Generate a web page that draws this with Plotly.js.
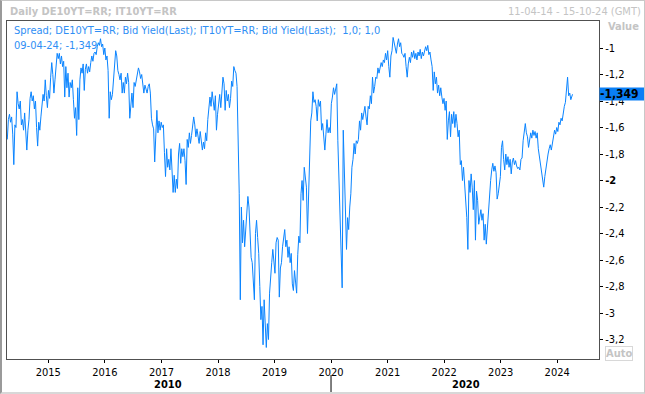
<!DOCTYPE html>
<html>
<head>
<meta charset="utf-8">
<script src="https://cdn.plot.ly/plotly-3.0.1.min.js"></script>
<style>
  html, body { margin: 0; padding: 0; background: #fff; }
  #wrap { position: relative; width: 645px; height: 394px; }
  #chart { width: 645px; height: 394px; }
  #frame { position: absolute; left: 0; top: 0; width: 645px; height: 394px; box-sizing: border-box;
           border: 1px solid #c8c8c8; border-left: 2px solid #9a9a9a; border-bottom: 2px solid #d8d8d8; pointer-events: none; }
</style>
</head>
<body>
<div id="wrap"><div id="chart"></div><div id="frame"></div></div>
<script>
// ---- data (weekly readings of the DE10Y - IT10Y spread, %) ----
const seriesStart = '2014-04-11';   // first reading, one reading per week after that
const spread2014to2016 = [
-1.69,-1.54,-1.50,-1.56,-1.52,-1.65,-1.88,-1.58,-1.60,-1.33,
-1.42,-1.46,-1.40,-1.58,-1.54,-1.62,-1.49,-1.60,-1.77,-1.62,
-1.54,-1.38,-1.33,-1.40,-1.36,-1.46,-1.40,-1.60,-1.74,-1.56,
-1.62,-1.52,-1.42,-1.35,-1.40,-1.24,-1.36,-1.45,-1.32,-1.38,
-1.22,-1.11,-1.20,-1.34,-1.24,-1.12,-1.04,-1.08,-1.04,-1.12,
-1.06,-1.14,-1.10,-1.37,-1.14,-1.30,-1.19,-1.37,-1.26,-1.30,
-1.24,-1.39,-1.53,-1.45,-1.66,-1.30,-1.54,-1.24,-1.15,-1.19,
-1.12,-1.32,-1.16,-1.12,-1.19,-1.14,-1.18,-1.11,-1.06,-1.10,
-1.04,-1.03,-1.05,-0.99,-0.96,-0.98,-0.93,-0.99,-0.97,-1.05,
-1.00,-1.09,-1.06,-1.17,-1.53,-1.33,-1.39,-1.35,-1.25,-1.10];
const spread2016to2018 = [
-1.02,-1.06,-1.17,-1.20,-1.24,-1.19,-1.34,-1.26,-1.34,-1.22,
-1.27,-1.19,-1.26,-1.53,-1.40,-1.34,-1.45,-1.26,-1.29,-1.24,
-1.18,-1.15,-1.18,-1.23,-1.20,-1.26,-1.34,-1.28,-1.31,-1.34,
-1.29,-1.27,-1.34,-1.53,-1.58,-1.61,-1.86,-1.67,-1.47,-1.64,
-1.55,-1.62,-1.56,-1.60,-1.58,-1.79,-1.97,-1.76,-1.90,-1.84,
-1.92,-1.76,-1.97,-2.09,-1.96,-2.09,-1.99,-2.06,-1.80,-1.72,
-1.87,-1.76,-1.82,-1.76,-1.85,-2.03,-1.69,-1.75,-1.64,-1.72,
-1.66,-1.60,-1.52,-1.58,-1.67,-1.61,-1.66,-1.72,-1.63,-1.70,
-1.77,-1.71,-1.76,-1.64,-1.70,-1.54,-1.45,-1.37,-1.44,-1.33,
-1.40,-1.47,-1.36,-1.62,-1.50,-1.42,-1.35,-1.45,-1.29,-1.22];
const spread2018to2020 = [
-1.27,-1.47,-1.32,-1.40,-1.35,-1.45,-1.38,-1.25,-1.29,-1.14,
-1.17,-1.19,-1.29,-1.64,-2.10,-2.90,-2.20,-2.47,-2.30,-2.50,
-2.35,-2.20,-2.12,-2.20,-2.45,-2.58,-2.62,-2.80,-2.90,-2.40,
-2.30,-2.43,-2.55,-2.80,-3.05,-2.95,-3.24,-2.90,-3.05,-3.26,
-3.08,-3.20,-2.85,-2.70,-2.62,-2.52,-2.65,-2.70,-2.47,-2.43,
-2.45,-2.88,-2.66,-2.62,-2.50,-2.42,-2.37,-2.50,-2.45,-2.58,
-2.50,-2.62,-2.55,-2.78,-2.83,-2.68,-2.80,-2.85,-2.56,-2.42,
-2.47,-2.10,-2.00,-2.15,-1.90,-1.97,-2.05,-2.40,-2.10,-1.78,
-1.55,-1.49,-1.33,-1.41,-1.39,-1.44,-1.55,-1.39,-1.44,-1.40,
-1.62,-1.57,-1.67,-1.77,-1.65,-1.54,-1.64,-1.60,-1.64,-1.42];
const spread2020to2022 = [
-1.37,-1.30,-1.35,-1.29,-1.27,-1.70,-1.95,-2.25,-2.60,-2.81,
-1.62,-2.00,-2.30,-2.52,-2.28,-2.37,-2.20,-2.10,-1.90,-1.84,
-1.72,-1.80,-1.70,-1.72,-1.69,-1.55,-1.62,-1.49,-1.54,-1.49,
-1.44,-1.52,-1.58,-1.44,-1.46,-1.36,-1.42,-1.22,-1.34,-1.29,
-1.22,-1.23,-1.15,-1.19,-1.13,-1.11,-1.14,-1.09,-1.11,-1.04,
-1.09,-1.02,-1.14,-1.22,-1.06,-1.02,-0.92,-0.96,-1.00,-1.04,
-0.97,-0.93,-0.99,-0.96,-1.04,-1.05,-1.07,-1.04,-1.14,-1.22,
-1.12,-1.07,-1.11,-1.03,-1.07,-1.02,-1.08,-1.04,-1.09,-1.03,
-1.06,-1.01,-1.08,-1.03,-1.06,-1.02,-0.99,-1.02,-0.98,-1.05,
-1.03,-1.09,-1.14,-1.32,-1.18,-1.27,-1.22,-1.34,-1.28,-1.36];
const spread2022to2024 = [
-1.30,-1.37,-1.42,-1.38,-1.47,-1.40,-1.69,-1.55,-1.48,-1.67,
-1.50,-1.57,-1.48,-1.60,-1.50,-1.57,-1.67,-1.62,-1.88,-1.85,
-2.00,-1.90,-2.02,-2.10,-2.28,-2.52,-2.00,-2.09,-1.95,-2.05,
-2.22,-2.00,-2.45,-2.08,-2.15,-2.33,-2.28,-2.22,-2.30,-2.25,
-2.45,-2.33,-2.48,-2.35,-2.20,-2.12,-2.00,-1.92,-1.87,-1.93,
-1.89,-1.94,-2.14,-2.10,-2.04,-1.97,-1.75,-1.70,-1.84,-1.92,
-1.80,-1.88,-1.82,-1.90,-1.84,-1.95,-1.86,-1.83,-1.88,-1.85,
-1.89,-1.91,-1.90,-1.92,-1.84,-1.83,-1.70,-1.62,-1.57,-1.64,
-1.67,-1.75,-1.70,-1.64,-1.68,-1.62,-1.66,-1.63,-1.68,-1.64,
-1.76,-1.82,-1.86,-1.92,-1.96,-2.05,-1.97,-1.90,-1.85,-1.80,
-1.76,-1.73,-1.77,-1.72,-1.66,-1.62,-1.65,-1.60,-1.63,-1.56,
-1.58,-1.53,-1.55,-1.48,-1.44,-1.41,-1.32,-1.22,-1.36,-1.34,
-1.39,-1.35];
const lastDate = '2024-04-09';
const lastValue = -1.349;

const yearTickDates = ['2015-01-01','2016-01-01','2017-01-01','2018-01-01','2019-01-01',
                       '2020-01-01','2021-01-01','2022-01-01','2023-01-01','2024-01-01'];
const yearTickLabels = ['2015','2016','2017','2018','2019','2020','2021','2022','2023','2024'];
const decadeLabels = ['2010','2020'];
const decadeBoundary = '2020-01-01';
const yTickVals = [-1,-1.2,-1.4,-1.6,-1.8,-2,-2.2,-2.4,-2.6,-2.8,-3,-3.2];
const yTickLabels = ['-1','-1,2','-1,4','-1,6','-1,8','<b>-2</b>','-2,2','-2,4','-2,6','-2,8','-3','-3,2'];

const headerLeft = 'Daily DE10YT=RR; IT10YT=RR';
const headerRight = '11-04-14 - 15-10-24 (GMT)';
const legendLine1 = 'Spread; DE10YT=RR; Bid Yield(Last); IT10YT=RR; Bid Yield(Last);  1,0; 1,0';
const legendLine2 = '09-04-24; -1,349';
const lastLabel = '-1,349';

// ---- build ----
const values = [].concat(spread2014to2016, spread2016to2018, spread2018to2020, spread2020to2022, spread2022to2024);
const t0 = Date.parse(seriesStart + 'T00:00:00Z');
const dates = values.map((v, i) => new Date(t0 + i * 7 * 86400000).toISOString().slice(0, 10));
dates.push(lastDate); values.push(lastValue);

const FONT = '"DejaVu Sans Condensed", "DejaVu Sans", Tahoma, sans-serif';
const BLUE = '#0a84ff';
const GREY = '#c4c4c4';

const trace = { x: dates, y: values, type: 'scatter', mode: 'lines',
  line: { color: BLUE, width: 1 }, hoverinfo: 'skip' };

const W = 645, H = 394, L = 7, R = 46, T = 21, B = 35;
const pw = W - L - R, ph = H - T - B;
const px = x => (x - L) / pw;
const py = y => (H - B - y) / ph;

const layout = {
  width: W, height: H,
  margin: { l: L, r: R, t: T, b: B, pad: 0 },
  paper_bgcolor: '#fff', plot_bgcolor: '#fff',
  separators: ', ',
  showlegend: false,
  font: { family: FONT, size: 11, color: '#000' },
  xaxis: {
    type: 'date', range: ['2014-04-09', '2024-09-27'],
    tickmode: 'array', tickvals: yearTickDates, ticktext: yearTickLabels,
    ticks: 'outside', ticklen: 3, tickcolor: '#000', tickwidth: 1,
    showgrid: false, zeroline: false, showline: true, mirror: true,
    linecolor: '#505050', linewidth: 1, tickfont: { family: FONT, size: 11, color: '#000' },
    fixedrange: true
  },
  yaxis: {
    side: 'right', range: [-3.347, -0.796],
    tickmode: 'array', tickvals: yTickVals, ticktext: yTickLabels,
    ticks: 'outside', ticklen: 3, tickcolor: '#000', tickwidth: 1,
    showgrid: false, zeroline: false, showline: true, mirror: true,
    linecolor: '#505050', linewidth: 1, tickfont: { family: FONT, size: 11, color: '#000' },
    fixedrange: true
  },
  annotations: [
    { xref: 'paper', yref: 'paper', x: px(8), y: py(11.5), xanchor: 'left', yanchor: 'middle',
      text: '<b>' + headerLeft + '</b>', showarrow: false, font: { family: FONT, size: 11, color: GREY } },
    { xref: 'paper', yref: 'paper', x: px(643), y: py(11.5), xanchor: 'right', yanchor: 'middle',
      text: headerRight, showarrow: false, font: { family: FONT, size: 11, color: GREY } },
    { xref: 'paper', yref: 'paper', x: px(606), y: py(27), xanchor: 'left', yanchor: 'middle',
      text: '<b>Value</b>', showarrow: false, font: { family: FONT, size: 11, color: GREY } },
    { xref: 'paper', yref: 'paper', x: px(619), y: py(353), xanchor: 'center', yanchor: 'middle',
      text: '<b>Auto</b>', showarrow: false, bordercolor: '#d8d8d8', borderwidth: 1, borderpad: 0,
      font: { family: FONT, size: 11, color: GREY } },
    { xref: 'paper', yref: 'paper', x: px(12), y: py(30), xanchor: 'left', yanchor: 'middle',
      text: legendLine1, showarrow: false, font: { family: FONT, size: 11, color: '#2f8ff5' } },
    { xref: 'paper', yref: 'paper', x: px(12), y: py(45), xanchor: 'left', yanchor: 'middle',
      text: legendLine2, showarrow: false, font: { family: FONT, size: 11, color: '#2f8ff5' } },
    { xref: 'paper', yref: 'paper', x: px(168), y: py(384), xanchor: 'center', yanchor: 'middle',
      text: '<b>' + decadeLabels[0] + '</b>', showarrow: false, font: { family: FONT, size: 11, color: '#000' } },
    { xref: 'paper', yref: 'paper', x: px(466), y: py(384), xanchor: 'center', yanchor: 'middle',
      text: '<b>' + decadeLabels[1] + '</b>', showarrow: false, font: { family: FONT, size: 11, color: '#000' } },
    { xref: 'paper', yref: 'y', x: 1, y: lastValue, xanchor: 'left', yanchor: 'middle', xshift: 0,
      text: '<b>' + lastLabel + '</b>', showarrow: false, bgcolor: '#0a7ff5', borderpad: 0,
      width: 46, height: 12, align: 'left', font: { family: FONT, size: 12, color: '#000' } }
  ],
  shapes: [
    { type: 'line', xref: 'x', yref: 'paper', x0: decadeBoundary, x1: decadeBoundary,
      y0: py(375), y1: py(392), line: { color: '#000', width: 1 } }
  ]
};

Plotly.newPlot('chart', [trace], layout, { staticPlot: true, displayModeBar: false });
</script>
</body>
</html>
